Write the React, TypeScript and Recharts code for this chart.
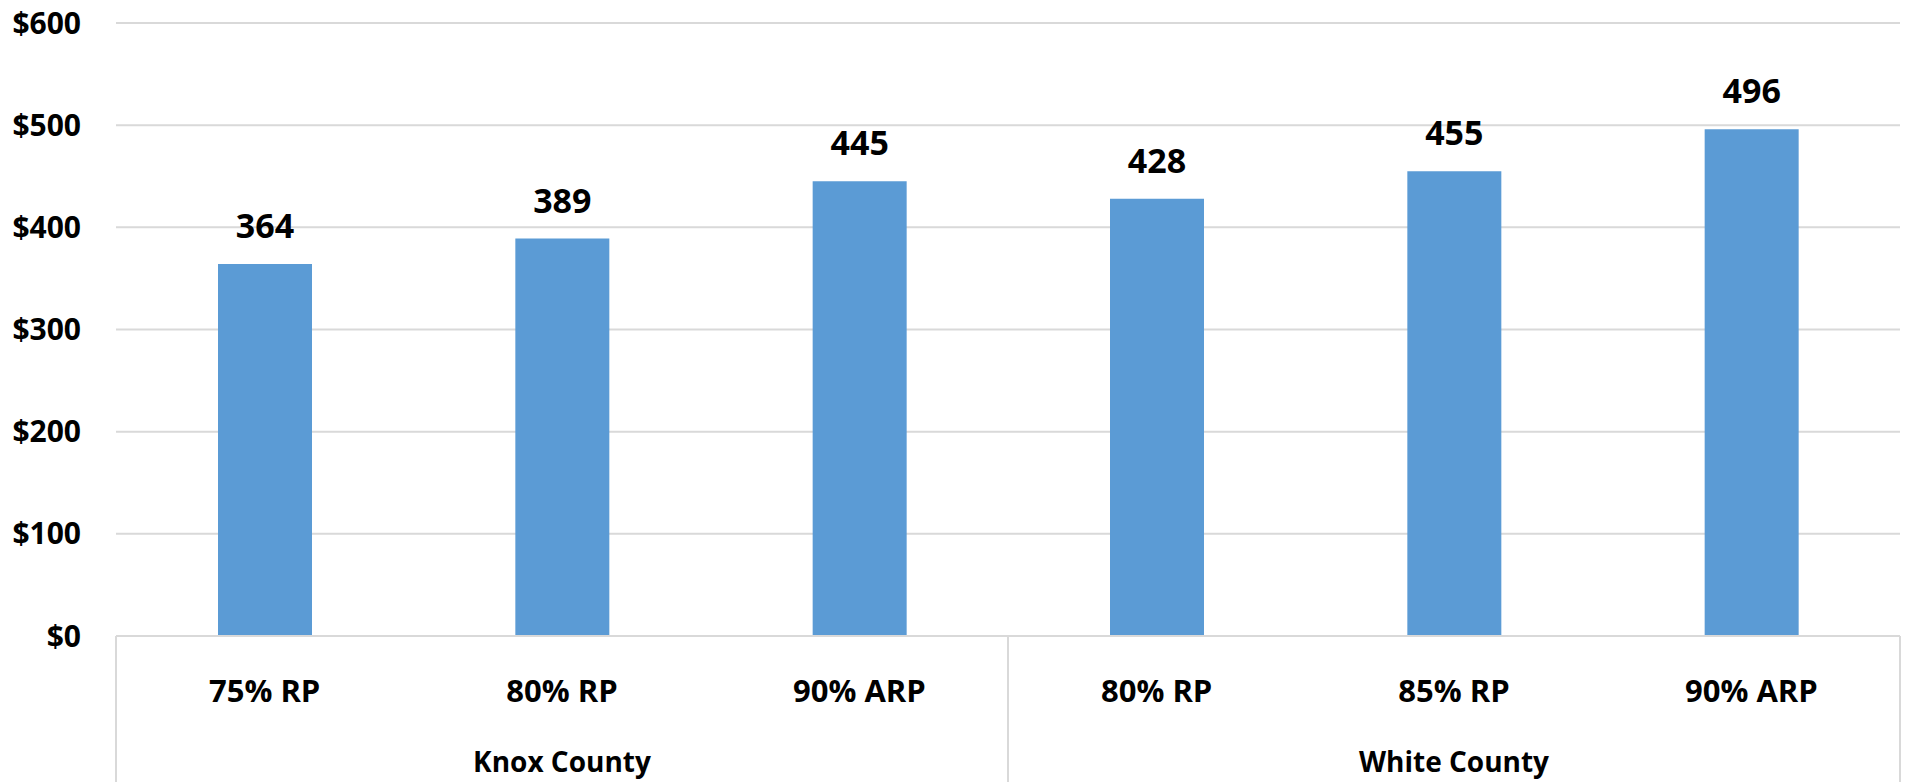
import { BarChart, Bar, XAxis, YAxis, CartesianGrid, LabelList } from "recharts"

const categories = ["75% RP", "80% RP", "90% ARP", "80% RP", "85% RP", "90% ARP"]
const groups = ["Knox County", "Knox County", "Knox County", "White County", "White County", "White County"]
const rents = [364, 389, 445, 428, 455, 496]
const yTicks = [0, 100, 200, 300, 400, 500, 600]

const data = categories.map((name, i) => ({
  key: `${groups[i]}|${name}`,
  name,
  group: groups[i],
  rent: rents[i],
}))

const WIDTH = 1906
const HEIGHT = 782
const AXIS_W = 116
const AXIS_H = 146
const GRID = "#d9d9d9"
const FONT = "'Open Sans', 'Noto Sans', sans-serif"

// category label plus the county box underneath it
const GroupedTick = (props: any) => {
  const { x, y, payload, index } = props
  const half = payload.offset ?? (WIDTH - AXIS_W - 6) / data.length / 2
  const row = data[index]
  const prev = data[index - 1]
  const next = data[index + 1]
  const members = data.filter((d) => d.group === row.group)
  const isMiddle = members[Math.floor(members.length / 2)] === row
  return (
    <g>
      {(!prev || prev.group !== row.group) && (
        <line x1={x - half} x2={x - half} y1={y} y2={y + AXIS_H} stroke={GRID} strokeWidth={2} />
      )}
      {!next && <line x1={x + half} x2={x + half} y1={y} y2={y + AXIS_H} stroke={GRID} strokeWidth={2} />}
      <text x={x} y={y + 66} textAnchor="middle" fontSize={31} fontWeight={700} fill="#000">
        {row.name}
      </text>
      {isMiddle && (
        <text x={x} y={y + 136} textAnchor="middle" fontSize={28} fontWeight={700} fill="#000">
          {row.group}
        </text>
      )}
    </g>
  )
}

export default function App() {
  return (
    <div style={{ position: "absolute", left: 0, top: 0, background: "#fff", fontFamily: FONT }}>
      <BarChart width={WIDTH} height={HEIGHT} data={data} margin={{ top: 23, right: 6, left: 0, bottom: 0 }}>
        <CartesianGrid vertical={false} stroke={GRID} strokeWidth={2} />
        <XAxis
          dataKey="key"
          height={AXIS_H}
          interval={0}
          tickLine={false}
          tickSize={0}
          tickMargin={0}
          axisLine={{ stroke: GRID, strokeWidth: 2 }}
          tick={<GroupedTick />}
        />
        <YAxis
          width={AXIS_W}
          domain={[0, 600]}
          ticks={yTicks}
          tickLine={false}
          axisLine={false}
          tickSize={0}
          tickMargin={35}
          tickFormatter={(v) => `$${v}`}
          tick={{ fontSize: 30, fontWeight: 700, fill: "#000" }}
        />
        <Bar dataKey="rent" fill="#5b9bd5" barSize={94} isAnimationActive={false}>
          <LabelList dataKey="rent" position="top" offset={26} fontSize={34} fontWeight={700} fill="#000" />
        </Bar>
      </BarChart>
    </div>
  )
}
